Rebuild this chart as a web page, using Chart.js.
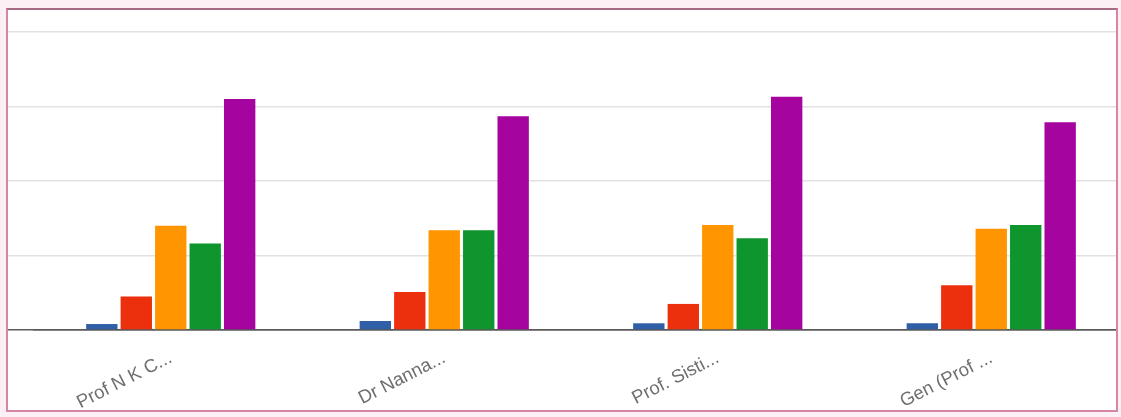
<!DOCTYPE html>
<html>
<head>
<meta charset="utf-8">
<script src="https://cdn.jsdelivr.net/npm/chart.js@4.4.1/dist/chart.umd.min.js"></script>
<style>
  html, body { margin: 0; padding: 0; width: 1121px; height: 417px; overflow: hidden; background: #fdf0f5; }
  #clip { position: absolute; left: 0; top: 0; width: 1117px; height: 417px; overflow: hidden; }
  #inner { position: absolute; left: 7px; top: 9px; width: 1110px; height: 402px; background: #ffffff; }
  #wrap { position: absolute; left: 0; top: 0; width: 1140px; height: 417px; }
  #frame { position: absolute; left: 6px; top: 8px; width: 1112px; height: 404px; box-sizing: border-box;
           border: 2px solid #d685a6; border-top-color: #a86a82; pointer-events: none; }
</style>
</head>
<body>
<div id="clip">
  <div id="inner"></div>
  <div id="wrap"><canvas id="c"></canvas></div>
</div>
<div id="frame"></div>
<script>
const categories = ["Prof N K C...", "Dr Nanna...", "Prof. Sisti...", "Gen (Prof ..."];
const seriesNames = ["A", "B", "C", "D", "E"];
const seriesA = [0.8, 1.2, 0.9, 0.9];
const seriesB = [4.5, 5.1, 3.5, 6.0];
const seriesC = [14.0, 13.4, 14.1, 13.6];
const seriesD = [11.6, 13.4, 12.3, 14.1];
const seriesE = [31.0, 28.7, 31.3, 27.9];
const yTicks = [0, 10, 20, 30, 40];
const colors = ["#2f5fa6", "#ec2f0c", "#ff9500", "#0f952d", "#a5049f"];

const seriesAll = [seriesA, seriesB, seriesC, seriesD, seriesE];

new Chart(document.getElementById('c'), {
  type: 'bar',
  data: {
    labels: categories,
    datasets: seriesAll.map((d, i) => ({
      label: seriesNames[i],
      data: d,
      backgroundColor: colors[i],
      borderWidth: 0,
      categoryPercentage: 0.63,
      barPercentage: 0.91
    }))
  },
  options: {
    responsive: true,
    maintainAspectRatio: false,
    animation: false,
    layout: { padding: { left: 8, right: 12, top: 32, bottom: 7 } },
    plugins: { legend: { display: false }, tooltip: { enabled: false } },
    scales: {
      x: {
        grid: { display: false },
        border: { display: true, color: '#5a5a5a', width: 1.5 },
        ticks: {
          minRotation: 27, maxRotation: 27, padding: 9,
          color: '#6e6e6e',
          font: { family: 'Liberation Sans, Arial, sans-serif', size: 18.5 }
        },
        afterFit: (s) => { s.height = 80; }
      },
      y: {
        min: yTicks[0], max: yTicks[yTicks.length - 1],
        afterBuildTicks: (s) => { s.ticks = yTicks.map(v => ({ value: v })); },
        border: { display: false },
        grid: {
          color: (ctx) => ctx.tick && ctx.tick.value === 0 ? '#5a5a5a' : '#e2e2e2',
          lineWidth: 1.5,
          tickLength: 26
        },
        ticks: { display: false }
      }
    }
  }
});
</script>
</body>
</html>
